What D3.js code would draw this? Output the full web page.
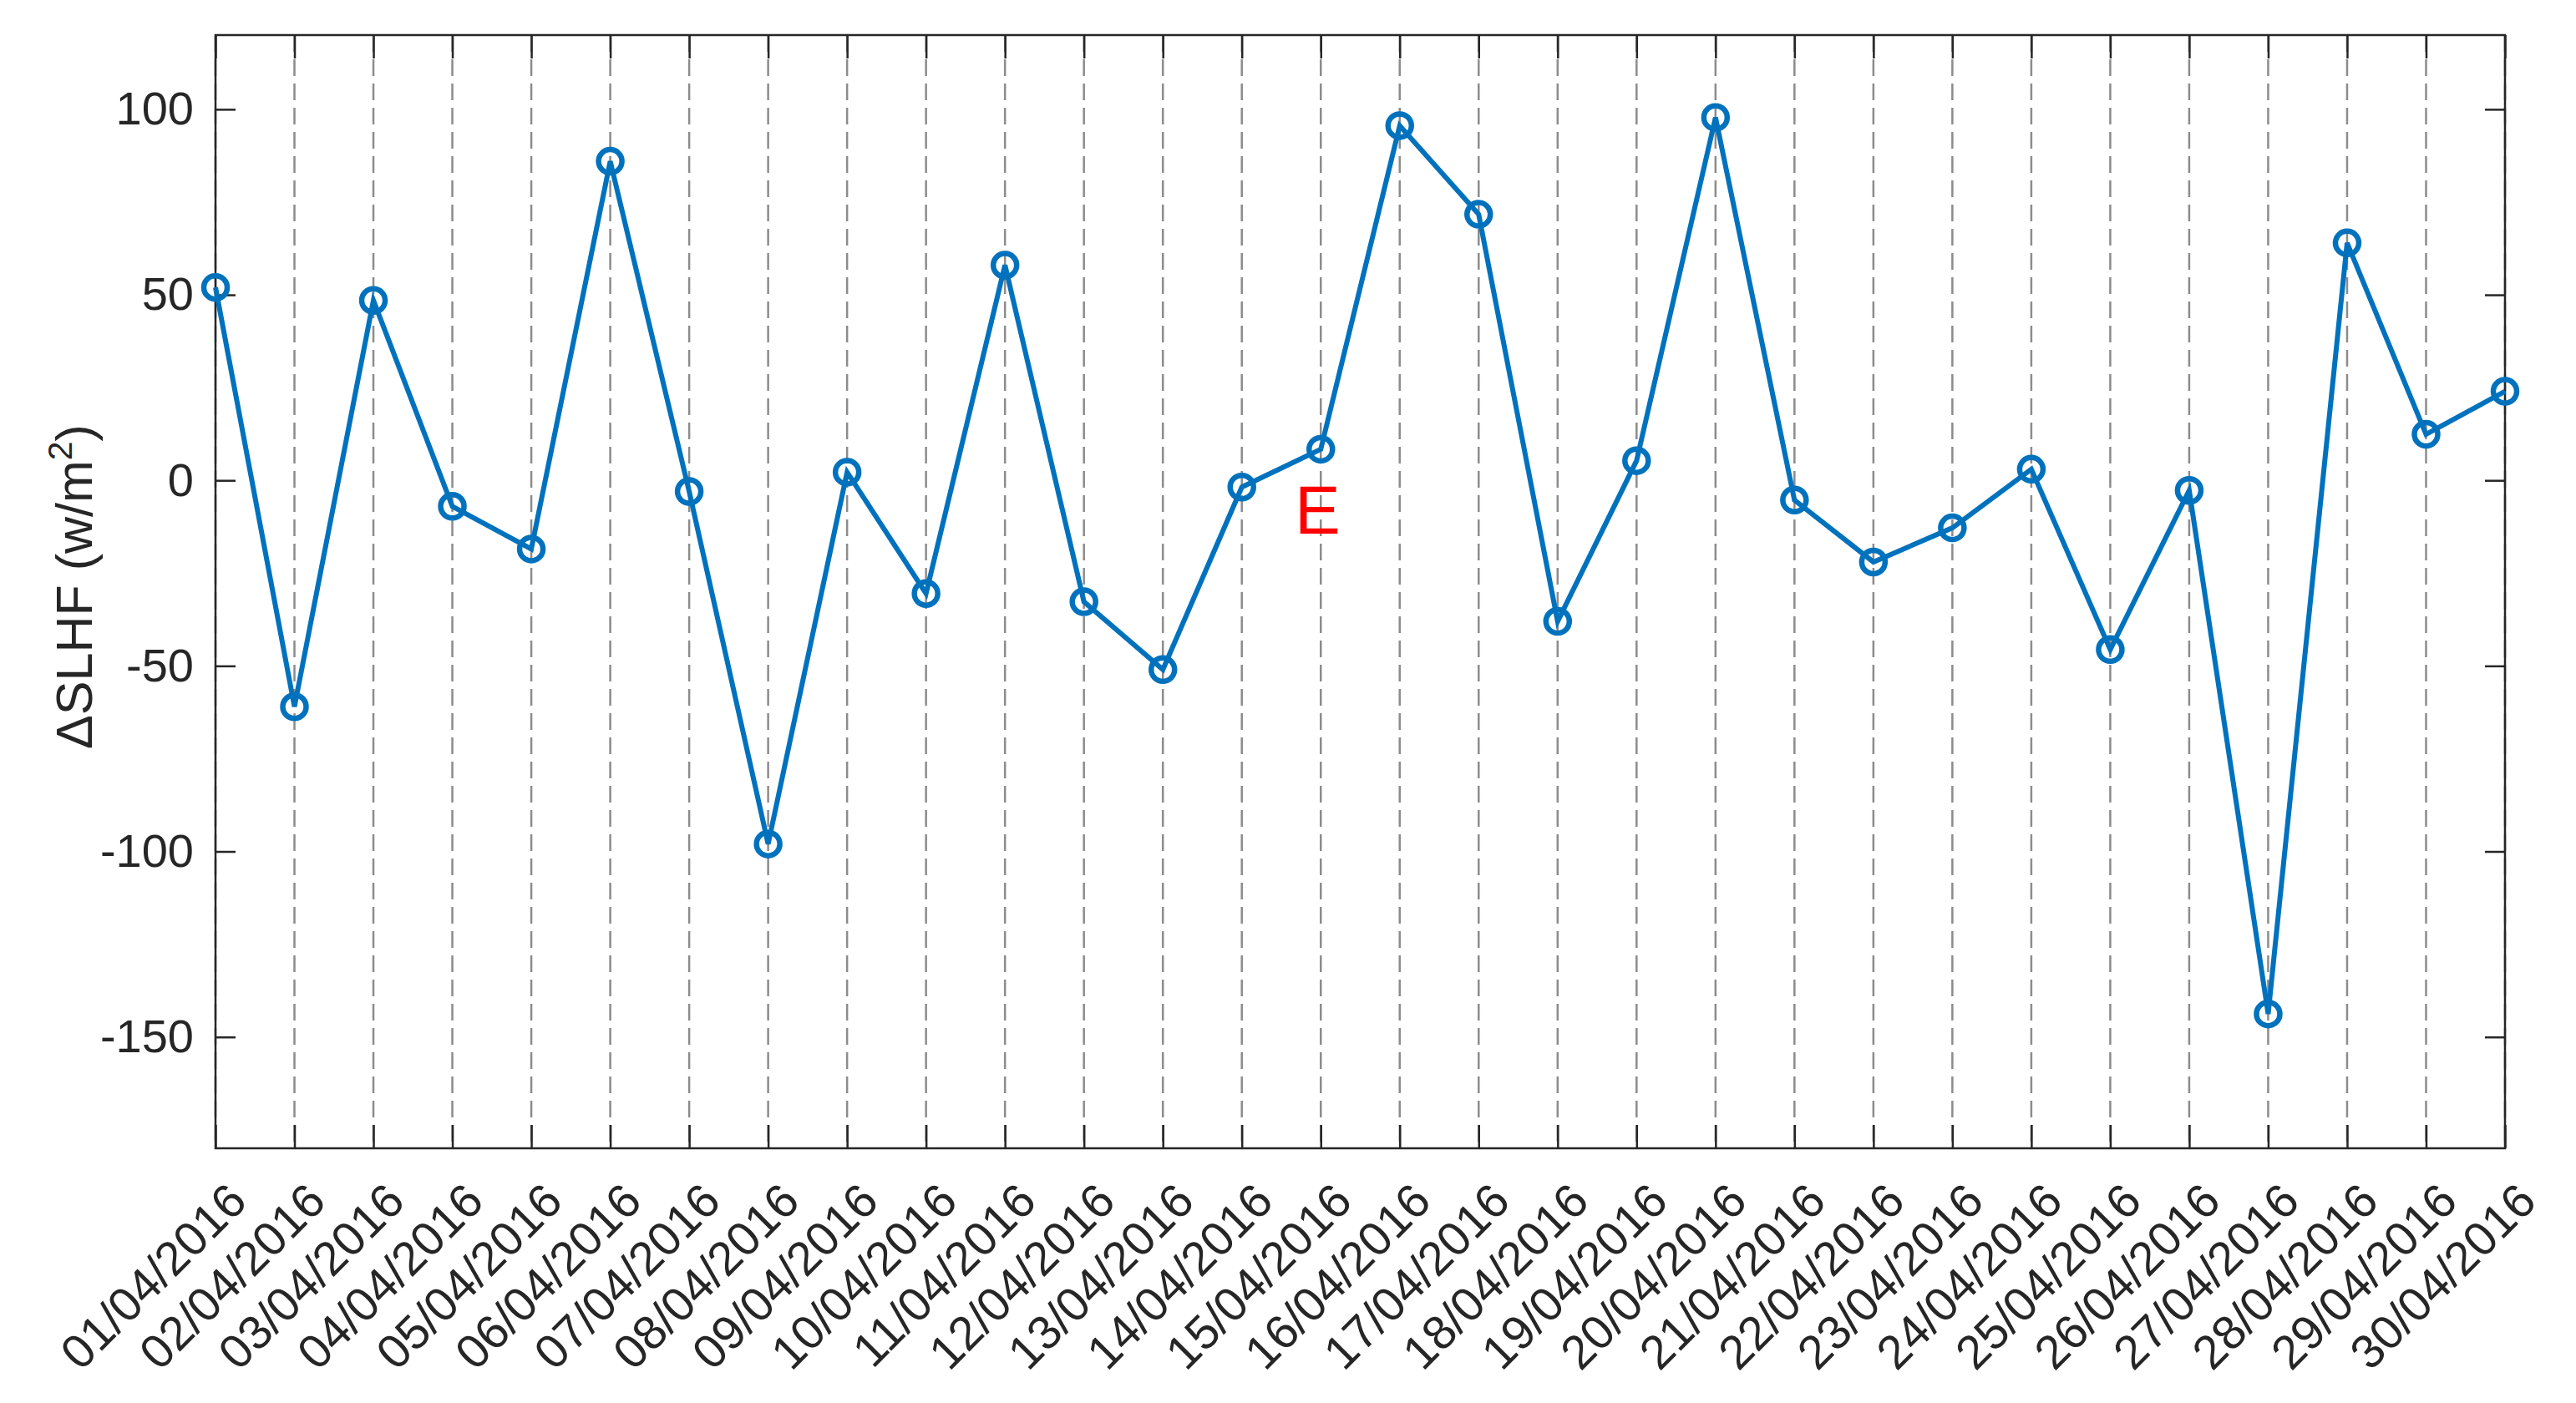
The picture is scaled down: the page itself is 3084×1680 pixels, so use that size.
<!DOCTYPE html>
<html><head><meta charset="utf-8">
<script src="https://cdn.jsdelivr.net/npm/d3@7"></script>
<style>body{margin:0;background:#fff}text{font-family:"Liberation Sans",Arial,sans-serif}</style>
</head><body><svg id="c" width="3084" height="1680"></svg>
<script>
const dates = d3.range(1,31).map(d => String(d).padStart(2,"0") + "/04/2016");
const values = [52,-61,48.5,-7,-18.5,86,-3,-98,2.2,-30.5,58,-32.7,-51,-1.8,8.4,95.6,71.7,-38,5.3,97.8,-5.3,-22,-12.8,3,-45.6,-2.7,-143.8,64,12.4,24];
const yTicks = [-150,-100,-50,0,50,100];
const annotation = {label:"E", index:14, value:-8};

const L=258,R=2999,T=42,B=1375;
const svg=d3.select("#c");
const x=d3.scaleLinear().domain([0,29]).range([L,R]);
const y=d3.scaleLinear().domain([-180,120]).range([B,T]);
const ink="#262626";

svg.append("g").selectAll("line").data(dates).join("line")
 .attr("x1",(d,i)=>x(i)).attr("x2",(d,i)=>x(i)).attr("y1",T).attr("y2",B)
 .attr("stroke","#8c8c8c").attr("stroke-width",2.5).attr("stroke-dasharray","20,9");

const yA=svg.append("g").attr("transform",`translate(${L},0)`)
 .call(d3.axisLeft(y).tickValues(yTicks).tickSize(-24).tickPadding(26).tickFormat(d=>String(d)));
const yR=svg.append("g").attr("transform",`translate(${R},0)`)
 .call(d3.axisRight(y).tickValues(yTicks).tickSize(-24).tickFormat(""));
const xB=svg.append("g").attr("transform",`translate(0,${B})`)
 .call(d3.axisBottom(x).tickValues(d3.range(30)).tickSize(-28).tickFormat(""));
const xT=svg.append("g").attr("transform",`translate(0,${T})`)
 .call(d3.axisTop(x).tickValues(d3.range(30)).tickSize(-28).tickFormat(""));
[yA,yR,xB,xT].forEach(g=>{g.select(".domain").remove();g.selectAll("line").attr("stroke",ink).attr("stroke-width",2.5);});
yA.selectAll("text").attr("font-size",56).attr("fill",ink).attr("font-family","Liberation Sans, Arial, sans-serif");
svg.append("rect").attr("x",L).attr("y",T).attr("width",R-L).attr("height",B-T)
 .attr("fill","none").attr("stroke",ink).attr("stroke-width",2.5);

svg.append("g").selectAll("text").data(dates).join("text")
 .attr("transform",(d,i)=>`translate(${x(i)+12},${B+38}) rotate(-45)`)
 .attr("text-anchor","end").attr("dy","0.7em").attr("font-size",57).attr("fill",ink).text(d=>d);

svg.append("text").attr("transform",`translate(110,${(T+B)/2 - 6}) rotate(-90)`)
 .attr("text-anchor","middle").attr("font-size",61).attr("fill",ink)
 .html('ΔSLHF (w/m<tspan dy="-24" font-size="41">2</tspan><tspan dy="24">)</tspan>');

const blue="#0072BD";
svg.append("path").datum(values).attr("fill","none").attr("stroke",blue).attr("stroke-width",6)
 .attr("d",d3.line().x((d,i)=>x(i)).y(d=>y(d)));
svg.append("g").selectAll("circle").data(values).join("circle")
 .attr("cx",(d,i)=>x(i)).attr("cy",d=>y(d)).attr("r",14).attr("fill","none").attr("stroke",blue).attr("stroke-width",6.5);

svg.append("text").attr("x",x(annotation.index)-4).attr("y",y(annotation.value)).attr("dy","0.35em").attr("text-anchor","middle")
 .attr("font-size",82).attr("fill","#ff0000").text(annotation.label);
</script></body></html>
